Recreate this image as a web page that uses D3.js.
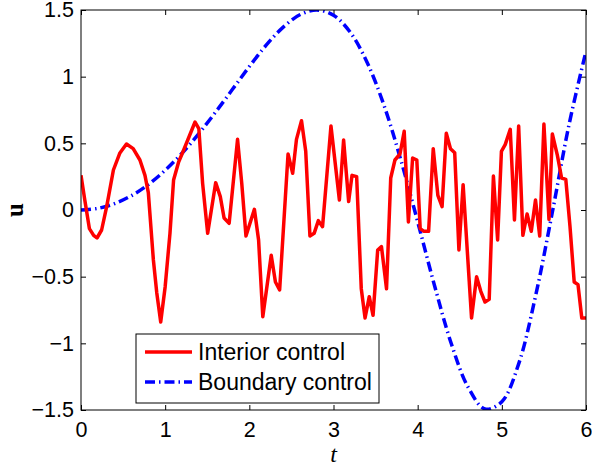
<!DOCTYPE html>
<html>
<head>
<meta charset="utf-8">
<script src="https://cdn.jsdelivr.net/npm/d3@7"></script>
<style>
  body { margin: 0; background: #fff; }
  text { font-family: "Liberation Sans", Arial, Helvetica, sans-serif; }
</style>
</head>
<body>
<div id="chart"></div>
<script>
var width = 592;
var height = 468;

// interior control
var interiorT = [0, 0.045, 0.10, 0.15, 0.19, 0.245, 0.305, 0.385, 0.46, 0.54, 0.62, 0.70, 0.76, 0.80, 0.86, 0.90, 0.947, 1.0, 1.057, 1.10,
  1.16, 1.22, 1.355, 1.40, 1.445, 1.505, 1.60, 1.655, 1.70, 1.76, 1.86, 1.91, 1.96, 2.06, 2.11, 2.16, 2.26, 2.31, 2.36, 2.46,
  2.515, 2.56, 2.62, 2.67, 2.72, 2.77, 2.82, 2.87, 2.97, 3.07, 3.12, 3.18, 3.22, 3.275, 3.33, 3.375, 3.425, 3.47, 3.525, 3.57,
  3.63, 3.68, 3.73, 3.79, 3.84, 3.89, 3.94, 3.99, 4.03, 4.075, 4.13, 4.185, 4.24, 4.29, 4.34, 4.39, 4.44, 4.49, 4.54, 4.59,
  4.64, 4.70, 4.75, 4.80, 4.85, 4.90, 4.95, 4.995, 5.04, 5.10, 5.15, 5.20, 5.25, 5.30, 5.35, 5.40, 5.45, 5.50, 5.56, 5.60,
  5.66, 5.71, 5.76, 5.81, 5.86, 5.905, 5.95, 6.0];
var interiorU = [0.26, 0.075, -0.14, -0.19, -0.21, -0.15, 0.025, 0.30, 0.425, 0.495, 0.46, 0.375, 0.26, 0.13, -0.375, -0.62, -0.84, -0.575, -0.175, 0.225,
  0.36, 0.45, 0.66, 0.61, 0.20, -0.175, 0.205, 0.10, -0.06, -0.10, 0.53, 0.20, -0.195, 0.005, -0.225, -0.80, -0.34, -0.54, -0.60, 0.42,
  0.275, 0.53, 0.67, 0.44, -0.195, -0.175, -0.08, -0.125, 0.63, 0.075, 0.525, 0.063, 0.26, 0.25, -0.59, -0.81, -0.65, -0.79, -0.30, -0.275,
  -0.59, 0.24, 0.375, 0.42, 0.59, -0.09, 0.39, 0.375, -0.14, -0.16, -0.16, 0.46, 0.11, 0.025, 0.575, 0.46, 0.43, -0.30, 0.19, -0.31,
  -0.81, -0.50, -0.61, -0.69, -0.67, 0.255, -0.225, 0.44, 0.49, 0.605, -0.075, 0.63, -0.19, -0.03, -0.16, 0.075, -0.195, 0.645, -0.07, 0.57,
  0.41, 0.24, 0.23, -0.125, -0.54, -0.56, -0.81, -0.81];

// boundary control
var boundaryT = [0, 0.2, 0.4, 0.6, 0.8, 1.0, 1.2, 1.4, 1.6, 1.8, 2.0, 2.2, 2.4, 2.6, 2.8, 3.0,
  3.2, 3.4, 3.6, 3.8, 4.0, 4.2, 4.4, 4.6, 4.8, 5.0, 5.2, 5.4, 5.6, 5.8, 6.0];
var boundaryU = [0, 0.012, 0.048, 0.108, 0.191, 0.298, 0.426, 0.573, 0.735, 0.905, 1.076, 1.236, 1.370, 1.464, 1.500, 1.461,
  1.332, 1.106, 0.785, 0.375, -0.088, -0.566, -1.003, -1.330, -1.492, -1.438, -1.154, -0.647, -0.017, 0.645, 1.191];

var xTicks = [0, 1, 2, 3, 4, 5, 6];
var yTicks = [-1.5, -1, -0.5, 0, 0.5, 1, 1.5];
var legendNames = ["Interior control", "Boundary control"];

window.onload = start;

function start() {
  var left = 81, right = 586, top = 10, bottom = 410;

  var xScale = d3.scaleLinear().domain([0, 6]).range([left, right]);
  var yScale = d3.scaleLinear().domain([-1.5, 1.5]).range([bottom, top]);
  var fmt = d3.format("~g");

  var chart = d3.select("#chart")
    .append("svg")
    .attr("width", width)
    .attr("height", height)
    .style("background", "#fff");

  chart.append("clipPath").attr("id", "clip")
    .append("rect")
    .attr("x", left).attr("y", top)
    .attr("width", right - left).attr("height", bottom - top);

  // axes with inward ticks on all four sides
  var xAxis = chart.append("g")
    .attr("transform", "translate(0," + bottom + ")")
    .call(d3.axisBottom(xScale).tickValues(xTicks).tickFormat(fmt).tickSize(-5).tickPadding(8));
  chart.append("g")
    .attr("transform", "translate(0," + top + ")")
    .call(d3.axisTop(xScale).tickValues(xTicks).tickFormat("").tickSize(-5));
  var yAxis = chart.append("g")
    .attr("transform", "translate(" + left + ",0)")
    .call(d3.axisLeft(yScale).tickValues(yTicks).tickFormat(fmt).tickSize(-5).tickPadding(7));
  chart.append("g")
    .attr("transform", "translate(" + right + ",0)")
    .call(d3.axisRight(yScale).tickValues(yTicks).tickFormat("").tickSize(-5));

  chart.selectAll(".domain").remove();
  chart.selectAll(".tick line").attr("stroke", "#000");
  chart.selectAll(".tick text").style("font-size", "21.5px").attr("fill", "#000");
  xAxis.selectAll(".tick text").attr("dy", "0.9em");

  // lines
  var line = d3.line()
    .x(function(d) { return xScale(d[0]); })
    .y(function(d) { return yScale(d[1]); });

  var interior = interiorT.map(function(t, i) { return [t, interiorU[i]]; });
  var boundary = boundaryT.map(function(t, i) { return [t, boundaryU[i]]; });

  var plot = chart.append("g").attr("clip-path", "url(#clip)");

  plot.append("path")
    .datum(boundary)
    .attr("fill", "none")
    .attr("stroke", "#0000ff")
    .attr("stroke-width", 3.5)
    .attr("stroke-dasharray", "10,4,1.5,4")
    .attr("d", line.curve(d3.curveCatmullRom));

  plot.append("path")
    .datum(interior)
    .attr("fill", "none")
    .attr("stroke", "#ff0000")
    .attr("stroke-width", 3.5)
    .attr("stroke-linejoin", "round")
    .attr("d", line.curve(d3.curveLinear));

  // box
  chart.append("rect")
    .attr("x", left).attr("y", top)
    .attr("width", right - left).attr("height", bottom - top)
    .attr("fill", "none")
    .attr("stroke", "#000")
    .attr("stroke-width", 1);

  // axis labels
  chart.append("text")
    .attr("x", (left + right) / 2)
    .attr("y", 462)
    .attr("text-anchor", "middle")
    .style("font-family", "'Liberation Serif', 'Times New Roman', serif")
    .style("font-style", "italic")
    .style("font-size", "24px")
    .text("t");

  chart.append("text")
    .attr("transform", "translate(23," + yScale(0) + ") rotate(-90)")
    .attr("text-anchor", "middle")
    .style("font-family", "'Liberation Serif', 'Times New Roman', serif")
    .style("font-weight", "bold")
    .style("font-size", "25px")
    .text("u");

  // legend
  var legend = chart.append("g");
  legend.append("rect")
    .attr("x", 136).attr("y", 334)
    .attr("width", 243).attr("height", 69)
    .attr("fill", "#fff")
    .attr("stroke", "#000")
    .attr("stroke-width", 1);

  var styles = [
    { color: "#ff0000", dash: null },
    { color: "#0000ff", dash: "10,4,1.5,4" }
  ];
  legendNames.forEach(function(name, i) {
    var y = 352 + i * 30;
    legend.append("line")
      .attr("x1", 145).attr("x2", 192)
      .attr("y1", y).attr("y2", y)
      .attr("stroke", styles[i].color)
      .attr("stroke-width", 3.5)
      .attr("stroke-dasharray", styles[i].dash);
    legend.append("text")
      .attr("x", 198)
      .attr("y", y)
      .attr("dy", "0.36em")
      .style("font-size", "23px")
      .attr("fill", "#000")
      .text(name);
  });
}
</script>
</body>
</html>
